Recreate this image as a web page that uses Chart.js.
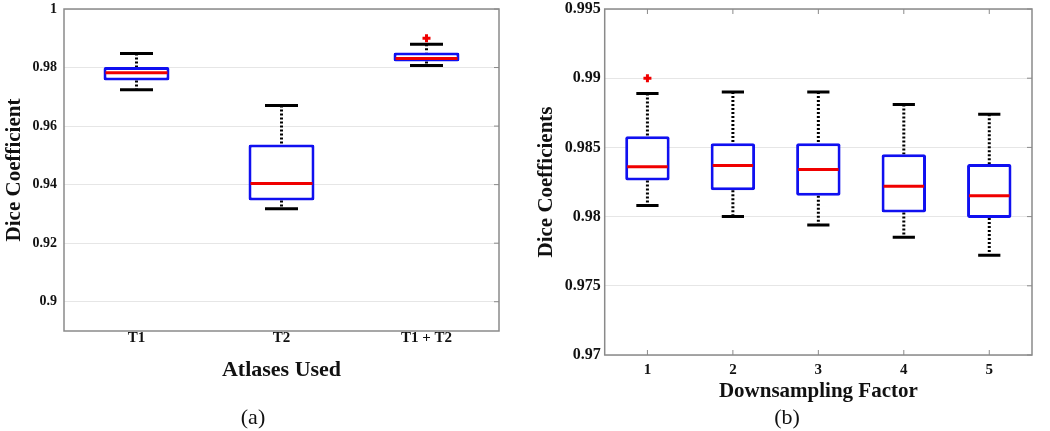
<!DOCTYPE html>
<html>
<head>
<meta charset="utf-8">
<script src="https://cdn.jsdelivr.net/npm/chart.js@4.4.0/dist/chart.umd.min.js"></script>
<style>
  html, body { margin: 0; padding: 0; background: #fff; }
  #wrap { position: relative; width: 1050px; height: 431px; }
  .panel { position: absolute; top: 0; width: 525px; height: 431px; }
</style>
</head>
<body>
<div id="wrap">
  <div class="panel" style="left:0"><canvas id="chartA"></canvas></div>
  <div class="panel" style="left:525px"><canvas id="chartB"></canvas></div>
</div>
<script>
// (a) atlases
const atlasLabels = ['T1', 'T2', 'T1 + T2'];
const atlasMin = [0.9724, 0.9318, 0.9807];
const atlasQ1 = [0.9756, 0.9346, 0.9821];
const atlasMed = [0.9782, 0.9404, 0.9831];
const atlasQ3 = [0.9802, 0.9537, 0.9851];
const atlasMax = [0.9848, 0.9670, 0.9880];
const atlasOutliers = [[], [], [0.9900]];
const atlasTicks = [0.9, 0.92, 0.94, 0.96, 0.98, 1];

// (b) downsampling
const factorLabels = ['1', '2', '3', '4', '5'];
const factorMin = [0.9808, 0.9800, 0.9794, 0.9785, 0.9772];
const factorQ1 = [0.9826, 0.9819, 0.9815, 0.9803, 0.9799];
const factorMed = [0.9836, 0.9837, 0.9834, 0.9822, 0.9815];
const factorQ3 = [0.9858, 0.9853, 0.9853, 0.9845, 0.9838];
const factorMax = [0.9889, 0.9890, 0.9890, 0.9881, 0.9874];
const factorOutliers = [[0.9900], [], [], [], []];
const factorTicks = [0.97, 0.975, 0.98, 0.985, 0.99, 0.995];

Chart.defaults.font.family = '"Liberation Serif", "Times New Roman", serif';
Chart.defaults.color = '#111';

function boxPartsPlugin(stats, opts) {
    return {
        id: 'boxParts',
        beforeDatasetsDraw(chart) {
            const {ctx, chartArea: a, scales: {x, y}} = chart;
            const bars = chart.getDatasetMeta(0).data;
            ctx.save();
            // frame
            ctx.strokeStyle = '#8a8a8a';
            ctx.lineWidth = 1.5;
            ctx.strokeRect(a.left, a.top, a.right - a.left, a.bottom - a.top);
            // inward tick marks
            ctx.lineWidth = 1;
            ctx.beginPath();
            y.ticks.forEach(t => {
                const py = y.getPixelForValue(t.value);
                ctx.moveTo(a.right, py); ctx.lineTo(a.right - 5, py);
            });
            if (opts.xTicks) {
                x.ticks.forEach((t, i) => {
                    const px = x.getPixelForTick(i);
                    ctx.moveTo(px, a.top); ctx.lineTo(px, a.top + 5);
                    ctx.moveTo(px, a.bottom); ctx.lineTo(px, a.bottom - 5);
                });
            }
            ctx.stroke();
            // whiskers
            bars.forEach((bar, i) => {
                const cap = bar.width / 2;
                const yMax = y.getPixelForValue(stats.max[i]);
                const yMin = y.getPixelForValue(stats.min[i]);
                const yQ3 = y.getPixelForValue(stats.q3[i]);
                const yQ1 = y.getPixelForValue(stats.q1[i]);
                ctx.strokeStyle = '#000';
                ctx.lineWidth = 3;
                ctx.setLineDash([2, 2]);
                ctx.beginPath();
                ctx.moveTo(bar.x, yMax); ctx.lineTo(bar.x, yQ3);
                ctx.moveTo(bar.x, yQ1); ctx.lineTo(bar.x, yMin);
                ctx.stroke();
                ctx.setLineDash([]);
                ctx.beginPath();
                ctx.moveTo(bar.x - cap / 2, yMax); ctx.lineTo(bar.x + cap / 2, yMax);
                ctx.moveTo(bar.x - cap / 2, yMin); ctx.lineTo(bar.x + cap / 2, yMin);
                ctx.stroke();
            });
            ctx.restore();
        },
        afterDatasetsDraw(chart) {
            const {ctx, scales: {y}} = chart;
            const bars = chart.getDatasetMeta(0).data;
            ctx.save();
            ctx.strokeStyle = '#f00000';
            ctx.lineWidth = 3;
            bars.forEach((bar, i) => {
                const ym = y.getPixelForValue(stats.med[i]);
                ctx.beginPath();
                ctx.moveTo(bar.x - bar.width / 2 + 2, ym);
                ctx.lineTo(bar.x + bar.width / 2 - 2, ym);
                ctx.stroke();
                stats.out[i].forEach(v => {
                    const yo = y.getPixelForValue(v);
                    ctx.beginPath();
                    ctx.moveTo(bar.x - 4, yo); ctx.lineTo(bar.x + 4, yo);
                    ctx.moveTo(bar.x, yo - 4); ctx.lineTo(bar.x, yo + 4);
                    ctx.stroke();
                });
            });
            ctx.restore();
        }
    };
}

function makeBoxChart(id, cfg) {
    const ctx = document.getElementById(id).getContext('2d');
    return new Chart(ctx, {
        type: 'bar',
        data: {
            labels: cfg.labels,
            datasets: [{
                data: cfg.q1.map((v, i) => [v, cfg.q3[i]]),
                backgroundColor: '#ffffff',
                borderColor: '#1010f0',
                borderWidth: 3,
                borderRadius: 2,
                borderSkipped: false,
                barPercentage: cfg.barPct,
                categoryPercentage: 1
            }]
        },
        options: {
            responsive: true,
            maintainAspectRatio: false,
            animation: false,
            layout: { padding: { top: cfg.padTop, right: cfg.padRight, left: cfg.padLeft, bottom: 0 } },
            plugins: {
                legend: { display: false },
                tooltip: { enabled: false },
                title: {
                    display: true,
                    position: 'bottom',
                    text: cfg.caption,
                    font: { size: 22, weight: 'normal' },
                    padding: { top: cfg.capPadTop, bottom: 0 }
                }
            },
            scales: {
                x: {
                    grid: { display: false, tickLength: 0 },
                    border: { display: false },
                    ticks: { font: { size: 15, weight: 'bold' }, padding: cfg.xTickPad, color: '#111' },
                    title: {
                        display: true,
                        text: cfg.xTitle,
                        font: { size: cfg.xTitleSize, weight: 'bold' },
                        padding: 0,
                        color: '#111'
                    },
                    afterFit: s => { s.height = cfg.xHeight; }
                },
                y: {
                    min: cfg.min,
                    max: cfg.max,
                    grid: { color: '#e6e6e6', lineWidth: 1, drawTicks: false },
                    border: { display: false },
                    ticks: {
                        font: { size: cfg.yTickSize, weight: 'bold' },
                        padding: cfg.yTickPad,
                        color: '#111',
                        callback: v => String(Math.round(v * 1000) / 1000)
                    },
                    afterBuildTicks: s => { s.ticks = cfg.ticks.map(v => ({ value: v })); },
                    title: {
                        display: true,
                        text: cfg.yTitle,
                        font: { size: 21, weight: 'bold' },
                        padding: { top: cfg.yTitlePad, bottom: 0 },
                        color: '#111'
                    },
                    afterFit: s => {
                        s.width = cfg.yWidth;
                        s.paddingTop = 0;
                        s.paddingBottom = 0;
                    }
                }
            }
        },
        plugins: [boxPartsPlugin(
            { min: cfg.lo, q1: cfg.q1, med: cfg.med, q3: cfg.q3, max: cfg.hi, out: cfg.out },
            { xTicks: cfg.xTicks }
        )]
    });
}

document.addEventListener('DOMContentLoaded', () => {
    makeBoxChart('chartA', {
        labels: atlasLabels, lo: atlasMin, q1: atlasQ1, med: atlasMed, q3: atlasQ3, hi: atlasMax,
        out: atlasOutliers, ticks: atlasTicks, min: 0.89, max: 1,
        barPct: 0.455, padTop: 9, padLeft: 7, padRight: 26, yWidth: 57, yTitlePad: -4.6,
        yTickPad: 7, yTickSize: 14,
        xTickPad: -2, xHeight: 52.2, xTitle: 'Atlases Used', xTitleSize: 22,
        yTitle: 'Dice Coefficient', caption: '(a)', capPadTop: 21.4, xTicks: false
    });
    makeBoxChart('chartB', {
        labels: factorLabels, lo: factorMin, q1: factorQ1, med: factorMed, q3: factorQ3, hi: factorMax,
        out: factorOutliers, ticks: factorTicks, min: 0.97, max: 0.995,
        barPct: 0.52, padTop: 9, padLeft: 17, padRight: 18, yWidth: 62.7, yTitlePad: -7.6,
        yTickPad: 4, yTickSize: 16,
        xTickPad: 6.5, xHeight: 49.6, xTitle: 'Downsampling Factor', xTitleSize: 21,
        yTitle: 'Dice Coefficients', caption: '(b)', capPadTop: 0, xTicks: true
    });
});
</script>
</body>
</html>
